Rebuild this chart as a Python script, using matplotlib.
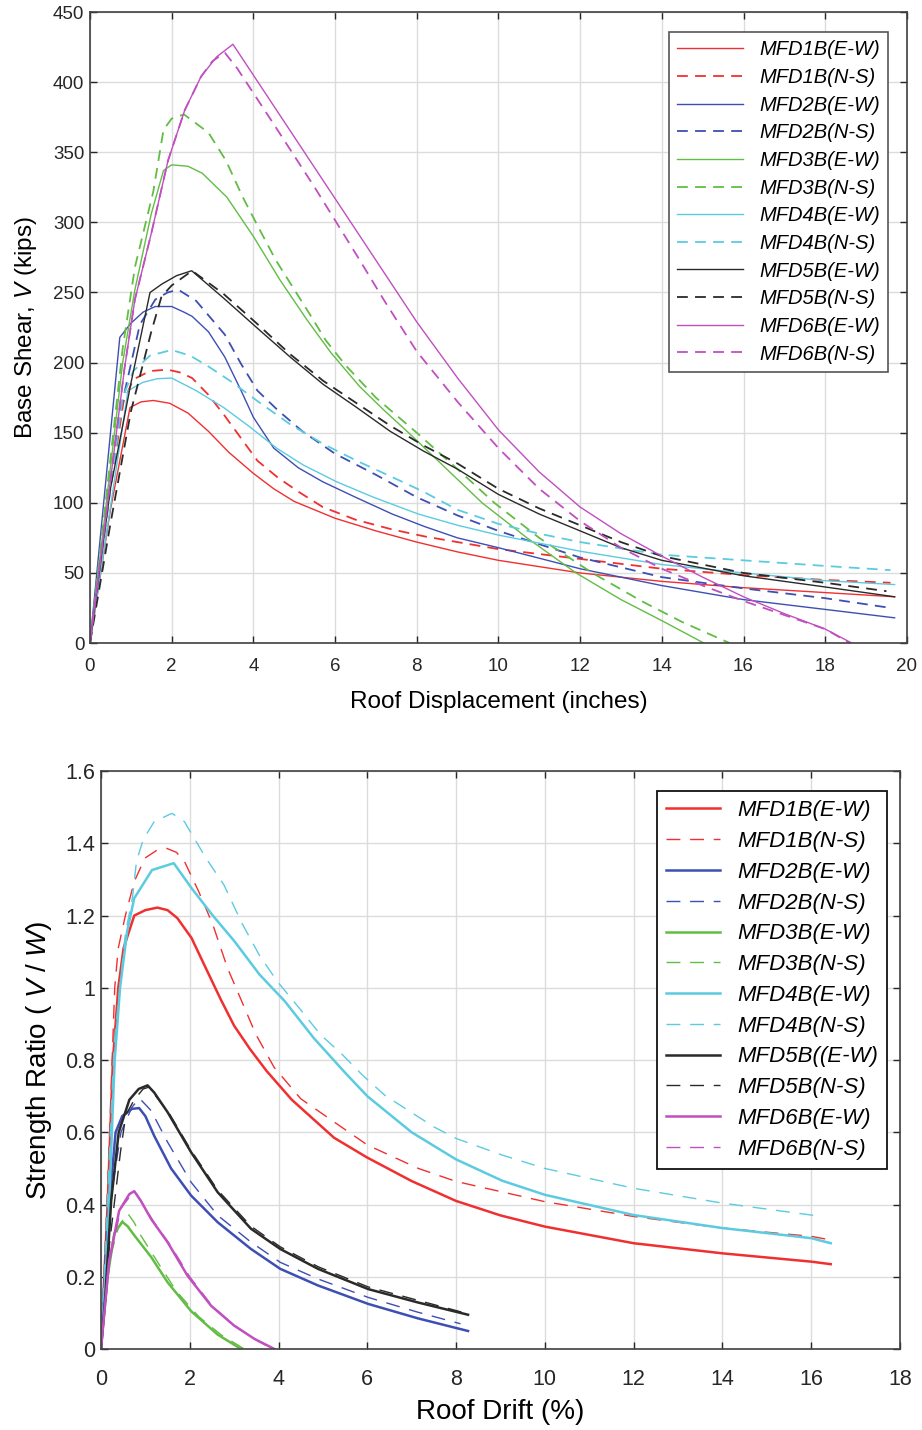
import matplotlib
matplotlib.use("Agg")
import matplotlib.pyplot as plt

plt.rcParams['font.family'] = ['Liberation Sans', 'DejaVu Sans']
plt.rcParams['mathtext.fontset'] = 'custom'
plt.rcParams['mathtext.it'] = 'Liberation Sans:italic'
plt.rcParams['mathtext.rm'] = 'Liberation Sans'

# ---- top: base shear vs roof displacement (inches, kips) ----
t1_ew_x = [0, 0.5, 0.98, 1.25, 1.55, 1.95, 2.4, 2.9, 3.4, 4.0, 4.5, 5.0, 6.0, 7.0, 8.0, 9.0, 10.0, 12.0, 14.0, 16.0, 18.0, 19.7]
t1_ew_y = [0, 95, 168, 172, 173, 171, 164, 151, 136, 121, 110, 101, 89, 80, 72, 65, 59, 50, 44, 39.5, 36, 33]
t1_ns_x = [0, 0.5, 0.82, 1.06, 1.47, 1.9, 2.2, 2.5, 2.9, 3.3, 3.7, 4.1, 4.6, 5.1, 5.7, 6.5, 7.4, 8.2, 9.0, 10, 12, 14, 16, 18, 19.6]
t1_ns_y = [0, 110, 172, 188, 194, 195, 193, 189, 177, 162, 146, 130, 118, 108, 97, 88, 81, 76, 72, 67, 60, 53, 48.5, 45, 43]
t2_ew_x = [0, 0.73, 1.0, 1.3, 1.6, 2.0, 2.3, 2.5, 2.9, 3.3, 3.7, 4.0, 4.5, 5.1, 5.7, 6.5, 7.4, 8.2, 9.0, 10, 12, 14, 16, 18, 19.7]
t2_ew_y = [0, 218, 228, 236, 240, 240, 236, 233, 222, 204, 180, 161, 139, 125, 115, 104, 92, 83, 75, 68, 53, 41, 31, 24, 18]
t2_ns_x = [0, 0.7, 1.22, 1.6, 1.9, 2.16, 2.6, 3.3, 3.7, 4.1, 4.6, 5.2, 6.0, 7.0, 8.0, 9.0, 10, 12, 14, 16, 18, 19.5]
t2_ns_y = [0, 160, 227, 245, 250, 252, 244, 220, 199, 180, 166, 151, 135, 120, 104, 91, 80, 61, 47, 39, 32, 25.5]
t3_ew_x = [0, 0.8, 1.1, 1.5, 1.8, 2.0, 2.4, 2.75, 3.35, 4.0, 4.65, 5.3, 5.9, 6.6, 7.2, 7.8, 8.7, 9.6, 10.7, 11.9, 13.0, 14.0, 15.03]
t3_ew_y = [0, 200, 252, 306, 337, 341, 340, 335, 318, 290, 259, 231, 207, 183, 166, 150, 125, 100, 75, 50, 31, 16, 0]
t3_ns_x = [0, 0.8, 1.1, 1.55, 1.8, 2.0, 2.3, 2.9, 3.33, 3.74, 4.15, 4.55, 4.96, 5.37, 5.77, 6.26, 7.0, 8.0, 9.0, 9.9, 11.0, 12.3, 13.5, 14.5, 15.66]
t3_ns_y = [0, 210, 268, 322, 366, 374, 377, 364, 344, 318, 295, 273, 254, 235, 216, 198, 175, 150, 124, 100, 75, 50, 30, 15, 0]
t4_ew_x = [0, 0.93, 1.3, 1.65, 2.0, 2.6, 3.27, 3.92, 4.57, 5.22, 6.04, 6.94, 8.04, 9.0, 10, 12, 14, 16, 18, 19.7]
t4_ew_y = [0, 180, 186, 188.5, 189, 180, 168, 154, 139, 127, 115, 104, 92, 84, 77, 65.5, 56, 50, 44.5, 41.7]
t4_ns_x = [0, 0.8, 1.06, 1.47, 2.0, 2.45, 2.86, 3.43, 4.08, 4.9, 5.71, 6.53, 7.35, 8.16, 9.0, 10, 11, 12, 14, 16, 18, 19.6]
t4_ns_y = [0, 175, 194, 205, 209, 205, 198, 187, 173, 156, 142, 130, 119, 108, 95, 85, 78, 72, 63, 59, 55, 52]
t5_ew_x = [0, 0.5, 1.0, 1.47, 1.76, 2.12, 2.49, 3.27, 4.08, 4.9, 5.71, 6.53, 7.35, 8.16, 9.0, 10, 11, 12, 13, 14, 16, 18, 19.7]
t5_ew_y = [0, 110, 185, 250, 256, 262, 265.5, 246, 225, 204, 184.5, 168, 151, 137, 124, 106, 92, 80, 68, 59, 48, 40, 33]
t5_ns_x = [0, 0.5, 1.0, 1.5, 1.75, 2.0, 2.5, 3.27, 4.08, 4.9, 5.71, 6.53, 7.35, 8.16, 9.0, 10, 11, 12, 13, 14, 16, 18, 19.5]
t5_ns_y = [0, 85, 165, 222, 247, 255, 265.5, 249, 228, 206, 187, 171, 155, 141, 128, 110, 96, 84, 72, 62, 50, 43, 37]
t6_ew_x = [0, 0.85, 1.1, 1.5, 1.91, 2.32, 2.72, 3.1, 3.5, 4.5, 5.5, 6.5, 7.0, 8.0, 9.0, 10, 11, 12, 13, 14, 15, 16, 17, 18, 18.65]
t6_ew_y = [0, 197, 245, 292, 344, 380, 404, 418, 427, 383, 339, 295, 273, 229, 189, 152, 122, 97, 78, 62, 47, 33, 21, 10, 0]
t6_ns_x = [0, 0.85, 1.1, 1.5, 1.91, 2.32, 2.72, 3.0, 3.3, 3.6, 4.5, 5.5, 6.5, 7.23, 8.0, 9.0, 10, 11, 12, 13, 14, 15, 16, 17, 18, 18.6]
t6_ns_y = [0, 197, 245, 292, 344, 380, 404, 415, 421, 410, 370, 325, 278, 243, 208, 172, 139, 110, 87, 68, 53, 41, 30, 20, 10, 0]

# ---- bottom: strength ratio vs roof drift (%) ----
b1_ew_x = [0, 0.15, 0.27, 0.39, 0.51, 0.75, 1.0, 1.27, 1.5, 1.72, 2.04, 2.36, 2.69, 3.0, 3.36, 3.73, 4.3, 5.25, 6.0, 7.0, 8.0, 9.0, 10, 12, 14, 16, 16.44]
b1_ew_y = [0, 0.4, 0.8, 1.0, 1.11, 1.2, 1.215, 1.222, 1.215, 1.193, 1.138, 1.055, 0.97, 0.895, 0.83, 0.77, 0.69, 0.585, 0.53, 0.465, 0.41, 0.37, 0.339, 0.293, 0.265, 0.242, 0.235]
b1_ns_x = [0, 0.15, 0.31, 0.39, 0.55, 0.75, 0.99, 1.25, 1.48, 1.7, 1.88, 2.2, 2.52, 2.85, 3.17, 3.49, 3.9, 4.5, 5.26, 6.0, 7.15, 8.0, 10, 12, 14, 16, 16.44]
b1_ns_y = [0, 0.45, 1.0, 1.11, 1.2, 1.294, 1.359, 1.38, 1.386, 1.375, 1.35, 1.267, 1.175, 1.055, 0.963, 0.871, 0.78, 0.693, 0.628, 0.565, 0.5, 0.464, 0.408, 0.367, 0.335, 0.312, 0.302]
b2_ew_x = [0, 0.15, 0.33, 0.48, 0.7, 0.86, 1.0, 1.2, 1.58, 2.03, 2.63, 3.38, 4.04, 4.89, 6.02, 7.14, 8.27]
b2_ew_y = [0, 0.35, 0.6, 0.645, 0.665, 0.667, 0.645, 0.59, 0.5, 0.425, 0.351, 0.277, 0.222, 0.176, 0.125, 0.085, 0.05]
b2_ns_x = [0, 0.2, 0.45, 0.7, 0.87, 1.13, 1.5, 2.03, 2.63, 3.38, 4.04, 4.89, 6.02, 7.14, 8.1]
b2_ns_y = [0, 0.4, 0.6, 0.67, 0.694, 0.66, 0.573, 0.462, 0.37, 0.296, 0.24, 0.194, 0.143, 0.102, 0.07]
b3_ew_x = [0, 0.15, 0.3, 0.48, 0.6, 0.75, 1.13, 1.5, 2.03, 2.63, 3.16]
b3_ew_y = [0, 0.2, 0.32, 0.352, 0.34, 0.315, 0.255, 0.185, 0.105, 0.04, 0]
b3_ns_x = [0, 0.2, 0.4, 0.6, 0.75, 0.9, 1.28, 1.7, 2.2, 2.7, 3.23]
b3_ns_y = [0, 0.25, 0.34, 0.376, 0.35, 0.314, 0.24, 0.16, 0.09, 0.04, 0]
b4_ew_x = [0, 0.15, 0.31, 0.43, 0.59, 0.75, 1.15, 1.64, 2.04, 2.52, 3.0, 3.57, 4.14, 4.8, 5.5, 6.0, 7.0, 8.0, 9.04, 10, 12, 14, 16, 16.44]
b4_ew_y = [0, 0.3, 0.8, 1.0, 1.156, 1.248, 1.326, 1.345, 1.276, 1.2, 1.13, 1.037, 0.963, 0.86, 0.765, 0.7, 0.6, 0.525, 0.466, 0.427, 0.371, 0.335, 0.307, 0.293]
b4_ns_x = [0, 0.3, 0.55, 0.71, 0.8, 0.95, 1.2, 1.6, 1.88, 2.36, 2.77, 3.17, 3.57, 3.97, 4.46, 4.94, 5.43, 5.91, 6.4, 7.5, 8.0, 9.04, 10, 12, 14, 16, 16.25]
b4_ns_y = [0, 0.85, 1.15, 1.25, 1.35, 1.41, 1.46, 1.483, 1.46, 1.36, 1.285, 1.18, 1.09, 1.018, 0.945, 0.871, 0.816, 0.756, 0.702, 0.615, 0.583, 0.537, 0.5, 0.445, 0.404, 0.371, 0.367]
b5_ew_x = [0, 0.1, 0.23, 0.4, 0.64, 0.85, 1.05, 1.2, 1.5, 2.03, 2.63, 3.38, 4.04, 4.89, 6.02, 7.14, 8.27]
b5_ew_y = [0, 0.15, 0.41, 0.6, 0.69, 0.72, 0.73, 0.71, 0.656, 0.545, 0.434, 0.333, 0.277, 0.222, 0.166, 0.129, 0.095]
b5_ns_x = [0, 0.2, 0.44, 0.56, 0.75, 0.95, 1.08, 1.3, 1.55, 2.03, 2.63, 3.38, 4.04, 4.89, 6.02, 7.14, 8.2]
b5_ns_y = [0, 0.3, 0.546, 0.648, 0.69, 0.72, 0.725, 0.69, 0.65, 0.55, 0.44, 0.34, 0.283, 0.228, 0.172, 0.135, 0.1]
b6_ew_x = [0, 0.18, 0.41, 0.64, 0.75, 0.9, 1.13, 1.5, 1.95, 2.48, 3.0, 3.46, 3.91]
b6_ew_y = [0, 0.24, 0.383, 0.429, 0.437, 0.41, 0.36, 0.296, 0.203, 0.12, 0.065, 0.028, 0]
b6_ns_x = [0, 0.2, 0.45, 0.7, 0.8, 0.95, 1.2, 1.55, 2.0, 2.5, 3.0, 3.5, 3.87]
b6_ns_y = [0, 0.25, 0.39, 0.43, 0.43, 0.4, 0.35, 0.29, 0.2, 0.12, 0.065, 0.025, 0]

names = ["MFD1B", "MFD2B", "MFD3B", "MFD4B", "MFD5B", "MFD6B"]
colors = ["#f03030", "#3d4fb3", "#62bd45", "#5ccbe0", "#2a2a2a", "#c04fc0"]
top_labels = [n + s for n in names for s in ("(E-W)", "(N-S)")]
bot_labels = list(top_labels)
bot_labels[8] = "MFD5B((E-W)"

top_series = [(t1_ew_x, t1_ew_y), (t1_ns_x, t1_ns_y), (t2_ew_x, t2_ew_y), (t2_ns_x, t2_ns_y),
              (t3_ew_x, t3_ew_y), (t3_ns_x, t3_ns_y), (t4_ew_x, t4_ew_y), (t4_ns_x, t4_ns_y),
              (t5_ew_x, t5_ew_y), (t5_ns_x, t5_ns_y), (t6_ew_x, t6_ew_y), (t6_ns_x, t6_ns_y)]
bot_series = [(b1_ew_x, b1_ew_y), (b1_ns_x, b1_ns_y), (b2_ew_x, b2_ew_y), (b2_ns_x, b2_ns_y),
              (b3_ew_x, b3_ew_y), (b3_ns_x, b3_ns_y), (b4_ew_x, b4_ew_y), (b4_ns_x, b4_ns_y),
              (b5_ew_x, b5_ew_y), (b5_ns_x, b5_ns_y), (b6_ew_x, b6_ew_y), (b6_ns_x, b6_ns_y)]


def style_axes(ax, tick_size, xpad):
    # matlab-ish look: light grid, inward ticks on all four sides
    ax.grid(True, color="#dcdcdc", linewidth=1.0)
    ax.set_axisbelow(True)
    ax.tick_params(direction="in", top=True, right=True, length=5, width=1,
                   labelsize=tick_size, colors="#262626")
    ax.tick_params(axis="x", pad=xpad)
    ax.tick_params(axis="y", pad=4)
    for sp in ax.spines.values():
        sp.set_color("#404040")
        sp.set_linewidth(1.2)


def main():
    fig = plt.figure(figsize=(9.22, 14.3), dpi=100)

    ax1 = fig.add_axes([0.0976, 0.5503, 0.886, 0.4413])
    for i, (x, y) in enumerate(top_series):
        c = colors[i // 2]
        if i % 2 == 0:
            ax1.plot(x, y, color=c, lw=1.0, label=top_labels[i])
        else:
            ax1.plot(x, y, color=c, lw=1.3, dashes=(6, 4), label=top_labels[i])
    ax1.set_xlim(0, 20)
    ax1.set_ylim(0, 450)
    ax1.set_xticks(range(0, 21, 2))
    ax1.set_yticks(range(0, 451, 50))
    style_axes(ax1, 13.5, 11)
    ax1.set_xlabel("Roof Displacement (inches)", fontsize=17.5, labelpad=11)
    ax1.set_ylabel("Base Shear, $V$ (kips)", fontsize=17.5, labelpad=10)
    leg1 = ax1.legend(loc="upper right", bbox_to_anchor=(0.977, 0.968), borderaxespad=0,
                      prop={"style": "italic", "size": 14.5}, handlelength=3.3,
                      labelspacing=0.43, fancybox=False, framealpha=1, edgecolor="#555555")
    leg1.get_frame().set_linewidth(1.2)

    ax2 = fig.add_axes([0.1095, 0.0566, 0.8666, 0.4042])
    for i, (x, y) in enumerate(bot_series):
        c = colors[i // 2]
        if i % 2 == 0:
            ax2.plot(x, y, color=c, lw=1.8, label=bot_labels[i])
        else:
            ax2.plot(x, y, color=c, lw=1.0, dashes=(10, 7), label=bot_labels[i])
    ax2.set_xlim(0, 18)
    ax2.set_ylim(0, 1.6)
    ax2.set_xticks(range(0, 19, 2))
    ax2.set_yticks([0, 0.2, 0.4, 0.6, 0.8, 1.0, 1.2, 1.4, 1.6])
    ax2.set_yticklabels(["0", "0.2", "0.4", "0.6", "0.8", "1", "1.2", "1.4", "1.6"])
    style_axes(ax2, 15.5, 14)
    ax2.set_xlabel("Roof Drift (%)", fontsize=20, labelpad=7)
    ax2.set_ylabel("Strength Ratio ( $V$ / $W$)", fontsize=20, labelpad=8)
    leg2 = ax2.legend(loc="upper right", bbox_to_anchor=(0.984, 0.965), borderaxespad=0,
                      prop={"style": "italic", "size": 16}, handlelength=2.4,
                      labelspacing=0.44, fancybox=False, framealpha=1, edgecolor="#111111")
    leg2.get_frame().set_linewidth(1.3)

    fig.savefig("out.png", dpi=100)


if __name__ == "__main__":
    main()
